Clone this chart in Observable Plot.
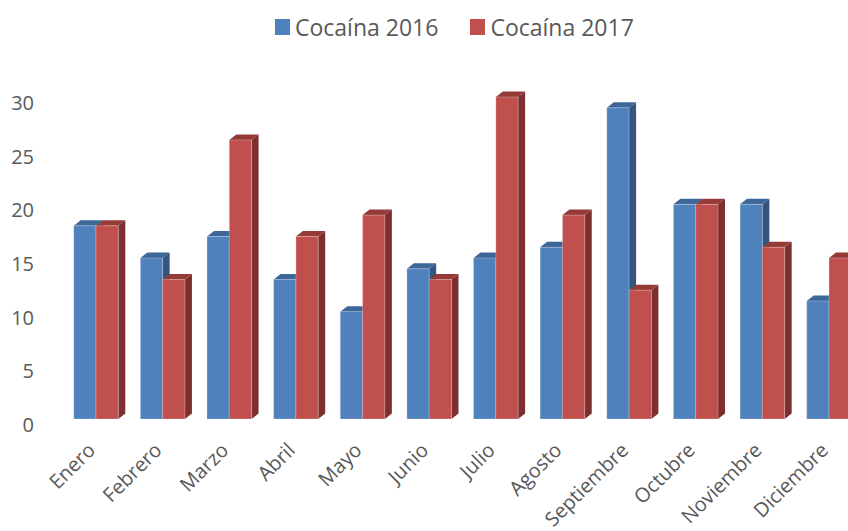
<!DOCTYPE html>
<html>
<head>
<meta charset="utf-8">
<script src="https://cdn.jsdelivr.net/npm/d3@7"></script>
<script src="https://cdn.jsdelivr.net/npm/@observablehq/plot@0.6"></script>
<style>
  html, body { margin: 0; padding: 0; background: #ffffff; }
  body { width: 848px; height: 531px; overflow: hidden; font-family: "Open Sans", sans-serif; color: #595959; }
  #legend { height: 60px; box-sizing: border-box; padding-top: 11px; padding-left: 275px; }
  #legend .lg-swatches { margin: 0 !important; min-height: 0 !important; }
  #legend .lg-swatch { margin-right: 32px !important; }
  #legend .lg-swatch > svg { margin-right: 5px !important; }
  #chart svg { display: block; }
</style>
</head>
<body>
<div id="legend"></div>
<div id="chart"></div>
<script>
// Monthly cocaine figures, 2016 vs 2017
const months = ["Enero", "Febrero", "Marzo", "Abril", "Mayo", "Junio", "Julio",
  "Agosto", "Septiembre", "Octubre", "Noviembre", "Diciembre"];
const seriesNames = ["Cocaína 2016", "Cocaína 2017"];
const cocaina2016 = [18, 15, 17, 13, 10, 14, 15, 16, 29, 20, 20, 11];
const cocaina2017 = [18, 13, 26, 17, 19, 13, 30, 19, 12, 20, 16, 15];
const yTicks = [0, 5, 10, 15, 20, 25, 30];

// Face colours for each series: front, top, side
const palette = [
  {front: "#4F81BD", top: "#3D6699", side: "#33557F"},
  {front: "#C0504D", top: "#953A37", side: "#7B2F2E"}
];

// Frame geometry (pixels)
const width = 848, height = 471;
const xRange = [96, 829];   // centre of the first and last month group
const yRange = [359, 37];   // value 0 and value 30
const pxPerX = (xRange[1] - xRange[0]) / (months.length - 1);
const pxPerY = (yRange[0] - yRange[1]) / 30;
const barW = 22.3 / pxPerX;       // width of one column, in x units
const depthX = 7 / pxPerX;        // 3-D depth, horizontal
const depthY = 5.5 / pxPerY;      // 3-D depth, vertical

function columns(values, k) {
  return values.map((v, i) => {
    const x1 = i - barW + k * barW;
    return {id: `${k}-${i}`, x1, x2: x1 + barW, v};
  });
}

function columnMarks(values, k) {
  const cols = columns(values, k);
  const c = palette[k];
  const side = cols.flatMap(d => [
    {id: d.id, x: d.x2, lo: 0, hi: d.v},
    {id: d.id, x: d.x2 + depthX, lo: depthY, hi: d.v + depthY}
  ]);
  const top = cols.flatMap(d => [
    {id: d.id, y: d.v, a: d.x1, b: d.x2},
    {id: d.id, y: d.v + depthY, a: d.x1 + depthX, b: d.x2 + depthX}
  ]);
  return [
    Plot.areaY(side, {x: "x", y1: "lo", y2: "hi", z: "id", fill: c.side, curve: "linear"}),
    Plot.areaX(top, {y: "y", x1: "a", x2: "b", z: "id", fill: c.top, curve: "linear"}),
    Plot.rect(cols, {x1: "x1", x2: "x2", y1: 0, y2: "v", fill: c.front,
      stroke: "#ffffff", strokeOpacity: 0.25, strokeWidth: 1})
  ];
}

const legend = Plot.legend({
  color: {type: "categorical", domain: seriesNames, range: palette.map(p => p.front)},
  swatchWidth: 15,
  swatchHeight: 16,
  className: "lg",
  style: {fontFamily: "Open Sans", fontSize: "23px", color: "#595959"}
});
document.getElementById("legend").append(legend);

const chart = Plot.plot({
  width,
  height,
  marginLeft: 40,
  marginRight: 0,
  marginTop: yRange[1],
  marginBottom: height - yRange[0],
  style: {fontFamily: "Open Sans", color: "#595959", background: "#ffffff", overflow: "hidden"},
  x: {domain: [0, months.length - 1], range: xRange, axis: null},
  y: {domain: [0, 30], range: yRange},
  marks: [
    Plot.axisY(yTicks, {tickSize: 0, tickPadding: 6.5, fontSize: 20, dy: 6}),
    ...columnMarks(cocaina2016, 0),
    ...columnMarks(cocaina2017, 1),
    Plot.text(months, {x: (d, i) => i, frameAnchor: "bottom", text: d => d,
      rotate: -45, textAnchor: "end", dx: 0, dy: 32, fontSize: 20, fill: "currentColor"})
  ]
});
document.getElementById("chart").append(chart);
</script>
</body>
</html>
